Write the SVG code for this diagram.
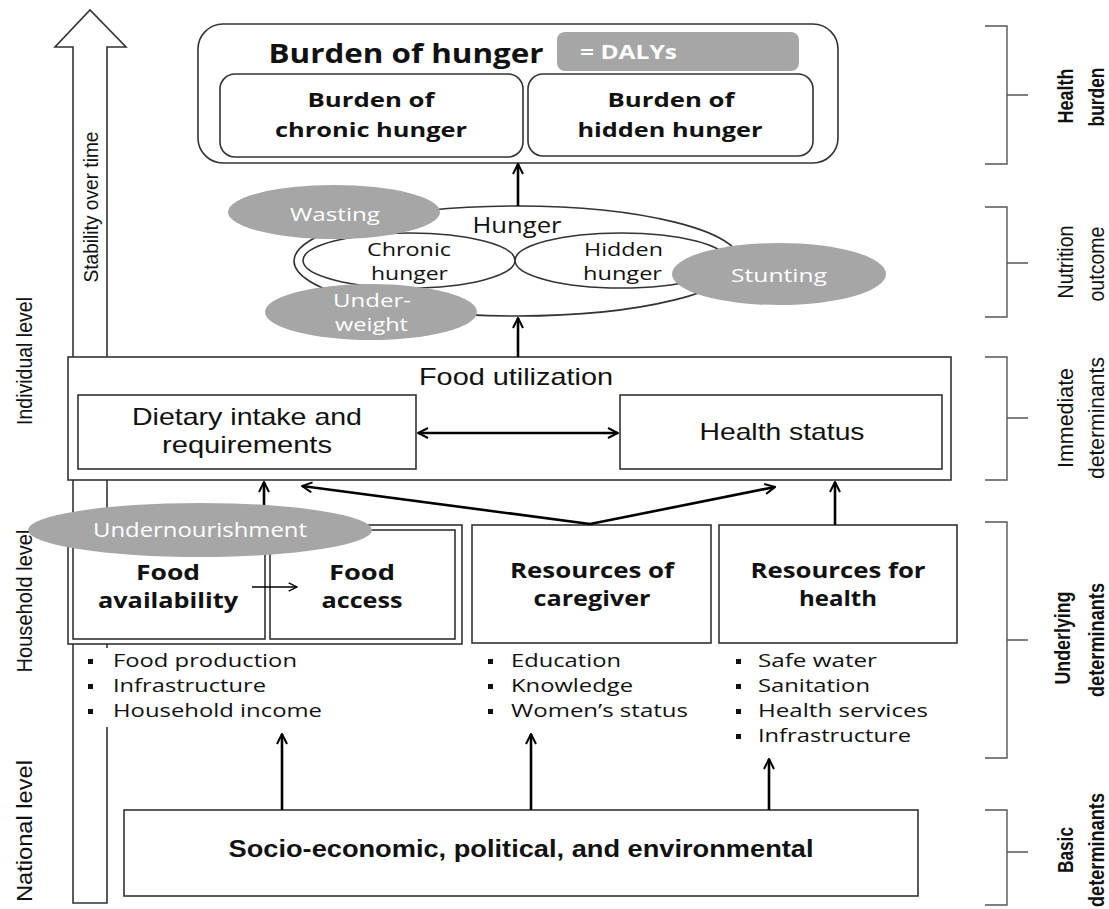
<svg xmlns="http://www.w3.org/2000/svg" width="1109" height="909" viewBox="0 0 1109 909">
<defs>
<style>
.box{fill:#fff;stroke:#333;stroke-width:1.6}
.grey{fill:#a6a6a6;stroke:none}
.wide{font-family:"Open Sans","DejaVu Sans",sans-serif;fill:#111}
.cal{font-family:"Liberation Sans",Arial,sans-serif;fill:#111}
.b{font-weight:bold}
.wt{fill:#fff}
.mid{text-anchor:middle}
.conn line{stroke:#000;stroke-width:2.6}
.brk{fill:none;stroke:#555;stroke-width:1.4}
</style>
<marker id="ah" viewBox="0 0 12 12" refX="11" refY="6" markerWidth="12" markerHeight="12" markerUnits="userSpaceOnUse" orient="auto-start-reverse"><path d="M1,1 L11,6 L1,11" fill="none" stroke="#000" stroke-width="2"/></marker>
<marker id="ahs" viewBox="0 0 12 12" refX="11" refY="6" markerWidth="10" markerHeight="10" markerUnits="userSpaceOnUse" orient="auto"><path d="M1,1 L11,6 L1,11" fill="none" stroke="#000" stroke-width="1.6"/></marker>
</defs>
<rect width="1109" height="909" fill="#fff"/>

<g id="stability-arrow">
<polygon class="box" points="73,903 73,47 55,47 90,10 126,47 107,47 107,903"/>
<text class="cal" font-size="20" transform="rotate(-90)" x="-207" y="98" text-anchor="middle" textLength="151" lengthAdjust="spacingAndGlyphs">Stability over time</text>
<rect x="100" y="648" width="12" height="79" fill="#fff"/>
</g>

<g id="levels">
<text class="cal" font-size="22" transform="rotate(-90)" x="-361" y="32" text-anchor="middle" textLength="128" lengthAdjust="spacingAndGlyphs">Individual level</text>
<text class="cal" font-size="22" transform="rotate(-90)" x="-601" y="32" text-anchor="middle" textLength="143" lengthAdjust="spacingAndGlyphs">Household level</text>
<text class="cal" font-size="22" transform="rotate(-90)" x="-831" y="32" text-anchor="middle" textLength="142" lengthAdjust="spacingAndGlyphs">National level</text>
</g>

<g id="burden">
<rect class="box" x="198" y="24" width="640" height="139" rx="25"/>
<rect class="grey" x="557" y="32" width="242" height="39" rx="8"/>
<text class="wide b wt" font-size="19" x="580" y="59" textLength="97" lengthAdjust="spacingAndGlyphs">= DALYs</text>
<text class="wide b mid" font-size="27" x="406" y="63" textLength="275" lengthAdjust="spacingAndGlyphs">Burden of hunger</text>
<rect class="box" x="220" y="74" width="303" height="83" rx="15"/>
<text class="wide b mid" font-size="20" x="371" y="107" textLength="127" lengthAdjust="spacingAndGlyphs">Burden of</text>
<text class="wide b mid" font-size="20" x="371" y="137" textLength="192" lengthAdjust="spacingAndGlyphs">chronic hunger</text>
<rect class="box" x="528" y="74" width="285" height="82" rx="15"/>
<text class="wide b mid" font-size="20" x="671" y="107" textLength="127" lengthAdjust="spacingAndGlyphs">Burden of</text>
<text class="wide b mid" font-size="20" x="670" y="137" textLength="185" lengthAdjust="spacingAndGlyphs">hidden hunger</text>
</g>

<g id="hunger">
<ellipse class="box" cx="517" cy="261" rx="223" ry="55"/>
<ellipse class="box" cx="409" cy="260.5" rx="106" ry="27.5"/>
<ellipse class="box" cx="621" cy="260.5" rx="106" ry="27.5"/>
<text class="wide mid" font-size="22" x="517" y="233" textLength="89" lengthAdjust="spacingAndGlyphs">Hunger</text>
<text class="wide mid" font-size="19" x="409" y="256" textLength="84" lengthAdjust="spacingAndGlyphs">Chronic</text>
<text class="wide mid" font-size="19" x="409.5" y="280" textLength="77" lengthAdjust="spacingAndGlyphs">hunger</text>
<text class="wide mid" font-size="19" x="623.5" y="256" textLength="79" lengthAdjust="spacingAndGlyphs">Hidden</text>
<text class="wide mid" font-size="19" x="622.5" y="280" textLength="79" lengthAdjust="spacingAndGlyphs">hunger</text>
</g>

<g id="food-utilization">
<rect class="box" x="68" y="357" width="883" height="123"/>
<text class="cal mid" font-size="24" x="516" y="385" textLength="194" lengthAdjust="spacingAndGlyphs">Food utilization</text>
<rect class="box" x="78" y="395" width="338" height="74"/>
<text class="cal mid" font-size="24" x="247" y="425" textLength="230" lengthAdjust="spacingAndGlyphs">Dietary intake and</text>
<text class="cal mid" font-size="24" x="247" y="453" textLength="170" lengthAdjust="spacingAndGlyphs">requirements</text>
<rect class="box" x="620" y="395" width="322" height="74"/>
<text class="cal mid" font-size="24" x="782" y="440" textLength="165" lengthAdjust="spacingAndGlyphs">Health status</text>
</g>

<g id="household">
<rect class="box" x="68" y="525" width="394" height="119"/>
<rect class="box" x="73" y="530" width="192" height="109"/>
<rect class="box" x="270" y="530" width="185" height="109"/>
<text class="wide b mid" font-size="22" x="168" y="580" textLength="64" lengthAdjust="spacingAndGlyphs">Food</text>
<text class="wide b mid" font-size="22" x="168" y="608" textLength="140" lengthAdjust="spacingAndGlyphs">availability</text>
<text class="wide b mid" font-size="22" x="362" y="580" textLength="66" lengthAdjust="spacingAndGlyphs">Food</text>
<text class="wide b mid" font-size="22" x="362" y="608" textLength="81" lengthAdjust="spacingAndGlyphs">access</text>
</g>

<g id="caregiver">
<rect class="box" x="472" y="525" width="239" height="118"/>
<text class="wide b mid" font-size="22" x="592" y="578" textLength="164" lengthAdjust="spacingAndGlyphs">Resources of</text>
<text class="wide b mid" font-size="22" x="592" y="606" textLength="117" lengthAdjust="spacingAndGlyphs">caregiver</text>
</g>

<g id="health-resources">
<rect class="box" x="719" y="525" width="238" height="118"/>
<text class="wide b mid" font-size="22" x="838" y="578" textLength="175" lengthAdjust="spacingAndGlyphs">Resources for</text>
<text class="wide b mid" font-size="22" x="838" y="606" textLength="78" lengthAdjust="spacingAndGlyphs">health</text>
</g>

<g id="list-food">
<rect x="88" y="659" width="5" height="5" fill="#111"/><text class="wide" font-size="19" x="113" y="667" textLength="184" lengthAdjust="spacingAndGlyphs">Food production</text>
<rect x="88" y="684" width="5" height="5" fill="#111"/><text class="wide" font-size="19" x="113" y="692" textLength="153" lengthAdjust="spacingAndGlyphs">Infrastructure</text>
<rect x="88" y="709" width="5" height="5" fill="#111"/><text class="wide" font-size="19" x="113" y="717" textLength="209" lengthAdjust="spacingAndGlyphs">Household income</text>
</g>

<g id="list-caregiver">
<rect x="488" y="659" width="5" height="5" fill="#111"/><text class="wide" font-size="19" x="511" y="667" textLength="110" lengthAdjust="spacingAndGlyphs">Education</text>
<rect x="488" y="684" width="5" height="5" fill="#111"/><text class="wide" font-size="19" x="511" y="692" textLength="122" lengthAdjust="spacingAndGlyphs">Knowledge</text>
<rect x="488" y="709" width="5" height="5" fill="#111"/><text class="wide" font-size="19" x="511" y="717" textLength="177" lengthAdjust="spacingAndGlyphs">Women’s status</text>
</g>

<g id="list-health">
<rect x="736" y="659" width="5" height="5" fill="#111"/><text class="wide" font-size="19" x="758" y="667" textLength="119" lengthAdjust="spacingAndGlyphs">Safe water</text>
<rect x="736" y="684" width="5" height="5" fill="#111"/><text class="wide" font-size="19" x="758" y="692" textLength="112" lengthAdjust="spacingAndGlyphs">Sanitation</text>
<rect x="736" y="709" width="5" height="5" fill="#111"/><text class="wide" font-size="19" x="758" y="717" textLength="170" lengthAdjust="spacingAndGlyphs">Health services</text>
<rect x="736" y="734" width="5" height="5" fill="#111"/><text class="wide" font-size="19" x="758" y="742" textLength="153" lengthAdjust="spacingAndGlyphs">Infrastructure</text>
</g>

<g id="basic">
<rect class="box" x="124" y="810" width="794" height="86"/>
<text class="cal b mid" font-size="24" x="521" y="857" textLength="585" lengthAdjust="spacingAndGlyphs">Socio-economic, political, and environmental</text>
</g>

<g id="connectors" class="conn">
<line x1="518" y1="206" x2="518" y2="164" marker-end="url(#ah)"/>
<line x1="518" y1="357" x2="518" y2="318" marker-end="url(#ah)"/>
<line x1="418" y1="433" x2="618" y2="433" marker-start="url(#ah)" marker-end="url(#ah)"/>
<line x1="264" y1="525" x2="264" y2="482" marker-end="url(#ah)"/>
<line x1="590" y1="524" x2="302" y2="486" marker-end="url(#ah)"/>
<line x1="590" y1="524" x2="775" y2="487" marker-end="url(#ah)"/>
<line x1="835" y1="525" x2="835" y2="482" marker-end="url(#ah)"/>
<line x1="252" y1="587" x2="297" y2="587" style="stroke-width:1.3" marker-end="url(#ahs)"/>
<line x1="282" y1="810" x2="282" y2="734" marker-end="url(#ah)"/>
<line x1="531" y1="810" x2="531" y2="734" marker-end="url(#ah)"/>
<line x1="769" y1="810" x2="769" y2="759" marker-end="url(#ah)"/>
</g>

<g id="wasting">
<ellipse class="grey" cx="334" cy="212" rx="106" ry="27"/>
<text class="wide wt mid" font-size="19" x="335" y="221" textLength="90" lengthAdjust="spacingAndGlyphs">Wasting</text>
</g>
<g id="underweight">
<ellipse class="grey" cx="371" cy="312" rx="106" ry="28"/>
<text class="wide wt mid" font-size="18" x="372" y="307" textLength="78" lengthAdjust="spacingAndGlyphs">Under-</text>
<text class="wide wt mid" font-size="18" x="371.5" y="331" textLength="73" lengthAdjust="spacingAndGlyphs">weight</text>
</g>
<g id="stunting">
<ellipse class="grey" cx="779" cy="274" rx="107" ry="31"/>
<text class="wide wt mid" font-size="19" x="779" y="282" textLength="96" lengthAdjust="spacingAndGlyphs">Stunting</text>
</g>
<g id="undernourishment">
<ellipse class="grey" cx="200" cy="530" rx="172" ry="27"/>
<text class="wide wt mid" font-size="20" x="200" y="537" textLength="214" lengthAdjust="spacingAndGlyphs">Undernourishment</text>
</g>

<g id="brackets">
<path class="brk" d="M985,26 H1007 V164 H985 M1007,95 H1028"/>
<path class="brk" d="M985,207 H1007 V317 H985 M1007,263 H1028"/>
<path class="brk" d="M985,357 H1007 V480 H985 M1007,418 H1028"/>
<path class="brk" d="M985,522 H1007 V758 H985 M1007,640 H1028"/>
<path class="brk" d="M985,810 H1007 V905 H985 M1007,852 H1028"/>
<g transform="rotate(-90)">
<text class="cal b mid" font-size="22" x="-96" y="1073" textLength="55" lengthAdjust="spacingAndGlyphs">Health</text>
<text class="cal b mid" font-size="22" x="-97" y="1104" textLength="59" lengthAdjust="spacingAndGlyphs">burden</text>
<text class="cal mid" font-size="22" x="-262" y="1073" textLength="73" lengthAdjust="spacingAndGlyphs">Nutrition</text>
<text class="cal mid" font-size="22" x="-264" y="1104" textLength="75" lengthAdjust="spacingAndGlyphs">outcome</text>
<text class="cal mid" font-size="22" x="-418" y="1073" textLength="100" lengthAdjust="spacingAndGlyphs">Immediate</text>
<text class="cal mid" font-size="22" x="-418" y="1104" textLength="122" lengthAdjust="spacingAndGlyphs">determinants</text>
<text class="cal b mid" font-size="22" x="-638" y="1070" textLength="93" lengthAdjust="spacingAndGlyphs">Underlying</text>
<text class="cal b mid" font-size="22" x="-640" y="1104" textLength="114" lengthAdjust="spacingAndGlyphs">determinants</text>
<text class="cal b mid" font-size="22" x="-850" y="1073" textLength="46" lengthAdjust="spacingAndGlyphs">Basic</text>
<text class="cal b mid" font-size="22" x="-850" y="1104" textLength="114" lengthAdjust="spacingAndGlyphs">determinants</text>
</g>
</g>
</svg>
